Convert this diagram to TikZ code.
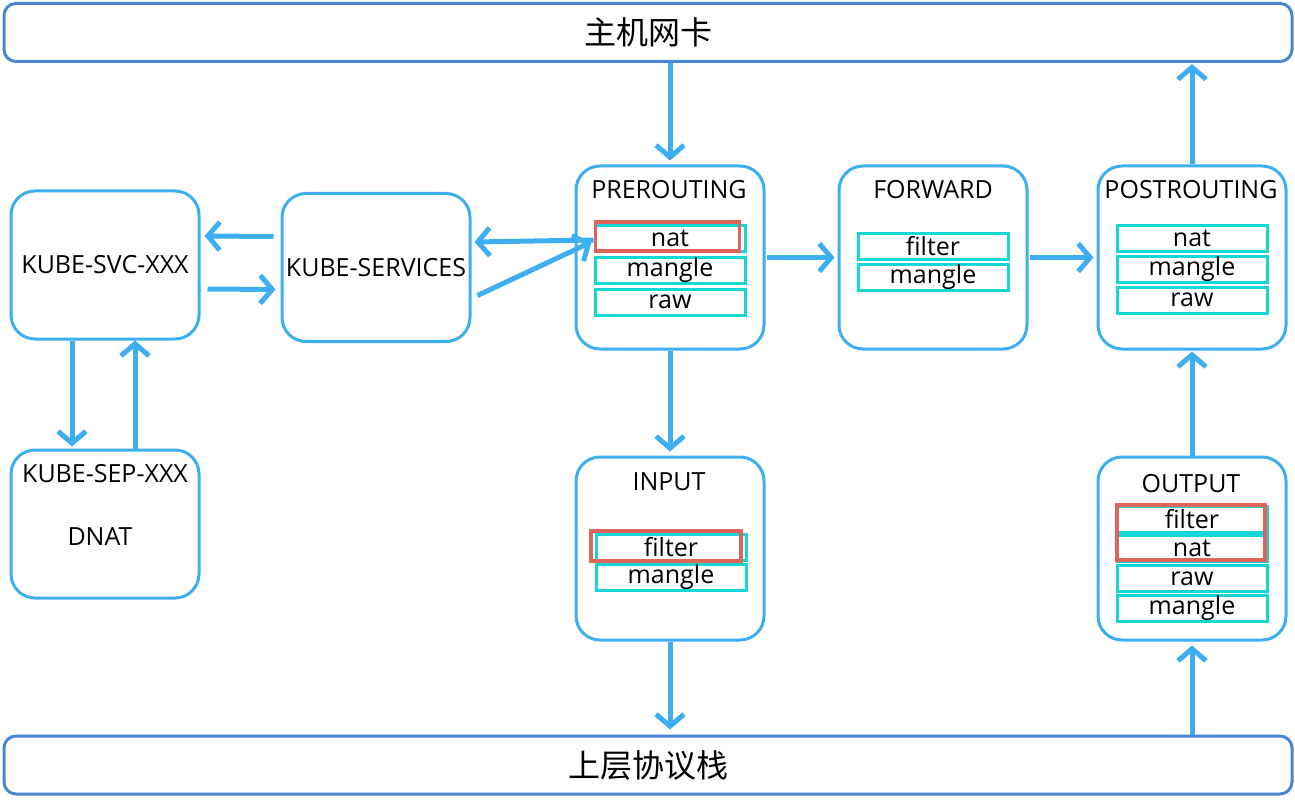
\documentclass[tikz,border=0pt]{standalone}
\usepackage{fontspec}
\setmainfont{Open Sans}
\newfontfamily\cjk{Noto Sans CJK SC}
\usetikzlibrary{arrows.meta,calc}
\definecolor{boxblue}{HTML}{3DAEF0}
\definecolor{barblue}{HTML}{4A85D0}
\definecolor{tcyan}{HTML}{16D6D6}
\definecolor{tred}{HTML}{E0645A}
\begin{document}
\begin{tikzpicture}[x=1pt,y=-1pt,
  bar/.style={draw=barblue,line width=3pt,rounded corners=12pt,minimum width=1288pt,minimum height=58pt,font=\cjk\fontsize{32}{36}\selectfont,inner sep=0pt},
  chain/.style={draw=boxblue,line width=3pt,rounded corners=24pt,minimum width=188pt,minimum height=183pt,inner sep=0pt},
  kbox/.style={draw=boxblue,line width=3pt,rounded corners=24pt,minimum width=188pt,minimum height=148pt,inner sep=0pt,font=\fontsize{25}{28}\selectfont},
  title/.style={font=\fontsize{25}{28}\selectfont,inner sep=0pt},
  tbl/.style={draw=tcyan,line width=3pt,minimum width=150pt,minimum height=26pt,inner sep=0pt,font=\fontsize{25}{26}\selectfont},
  redbox/.style={draw=tred,line width=3.5pt,inner sep=0pt},
  arr/.style={draw=boxblue,line width=5pt,-{Straight Barb[length=12pt,width=28pt]}}
]
\useasboundingbox (0,0) rectangle (1295,805);
% bars
\node[bar] (top) at (648,32.5) {主机网卡};
\node[bar] (bot) at (648,765) {上层协议栈};
% kube boxes
\node[kbox] (svc) at (105,265) {KUBE-SVC-XXX};
\node[kbox] (services) at (376,267.5) {KUBE-SERVICES};
\node[kbox] (sep) at (105,524) {};
\node[title] (septitle) at (105,474) {KUBE-SEP-XXX};
\node[title] (dnat) at (100,537) {DNAT};
% chain boxes
\node[chain] (pre) at (670,257.5) {};
\node[chain] (fwd) at (933,257.5) {};
\node[chain] (post) at (1192,257.5) {};
\node[chain] (inp) at (670,548.5) {};
\node[chain] (out) at (1192,548.5) {};
\node[title] (pret) at (669,190) {PREROUTING};
\node[title] (fwdt) at (933,190) {FORWARD};
\node[title] (postt) at (1191,190) {POSTROUTING};
\node[title] (inpt) at (669,482) {INPUT};
\node[title] (outt) at (1191,484) {OUTPUT};
% tables
\node[tbl] (prenat) at (670,238) {nat};
\node[tbl] (premangle) at (670,270.5) {mangle};
\node[tbl] (preraw) at (670,302) {raw};
\node[redbox,minimum width=144pt,minimum height=29pt] (prered) at (667.5,236.5) {};
\node[tbl] (fwdfilter) at (933,246.5) {filter};
\node[tbl] (fwdmangle) at (933,277.5) {mangle};
\node[tbl] (postnat) at (1192,238.5) {nat};
\node[tbl] (postmangle) at (1192,269.5) {mangle};
\node[tbl] (postraw) at (1192,300) {raw};
\node[tbl] (inpfilter) at (671,547.5) {filter};
\node[tbl] (inpmangle) at (671,577.5) {mangle};
\node[redbox,minimum width=150pt,minimum height=30pt] (inpred) at (666,546) {};
\node[tbl] (outfilter) at (1192,519) {filter};
\node[tbl] (outnat) at (1192,548) {nat};
\node[tbl] (outraw) at (1192,578.5) {raw};
\node[tbl] (outmangle) at (1192,608.5) {mangle};
\node[redbox,minimum width=148pt,minimum height=55pt] (outred) at (1191,532.5) {};
% arrows
\draw[arr,shorten >=4pt] (top.south -| pre.north) -- (pre.north);
\draw[arr,shorten >=1pt] (post.north) -- (post.north |- top.south);
\draw[arr,shorten <=1pt,shorten >=3pt] (pre.east) -- (fwd.west);
\draw[arr,shorten <=1pt,shorten >=3pt] (fwd.east) -- (post.west);
\draw[arr,shorten >=4pt] (pre.south) -- (inp.north);
\draw[arr,shorten >=5pt] (inp.south) -- (inp.south |- bot.north);
\draw[arr,shorten >=4pt] (bot.north -| out.south) -- (out.south);
\draw[arr,shorten >=1pt] (out.north) -- (post.south);
\draw[arr] ([xshift=-7pt,yshift=31pt]services.west) -- ([xshift=4pt,yshift=29pt]svc.east);
\draw[arr] ([xshift=7pt,yshift=-24pt]svc.east) -- ([xshift=-5pt,yshift=-22pt]services.west);
\draw[arr] ([xshift=-33pt]svc.south) -- ([xshift=-33pt,yshift=2pt]sep.north);
\draw[arr] ([xshift=30pt]sep.north) -- ([xshift=30pt]svc.south);
\draw[arr] ([yshift=-2pt]prenat.west) -- ([xshift=3pt,yshift=25.5pt]services.east);
\draw[arr] ([xshift=6pt,yshift=-28pt]services.east) -- ([xshift=-2pt,yshift=-4pt]prenat.west);
\end{tikzpicture}
\end{document}
